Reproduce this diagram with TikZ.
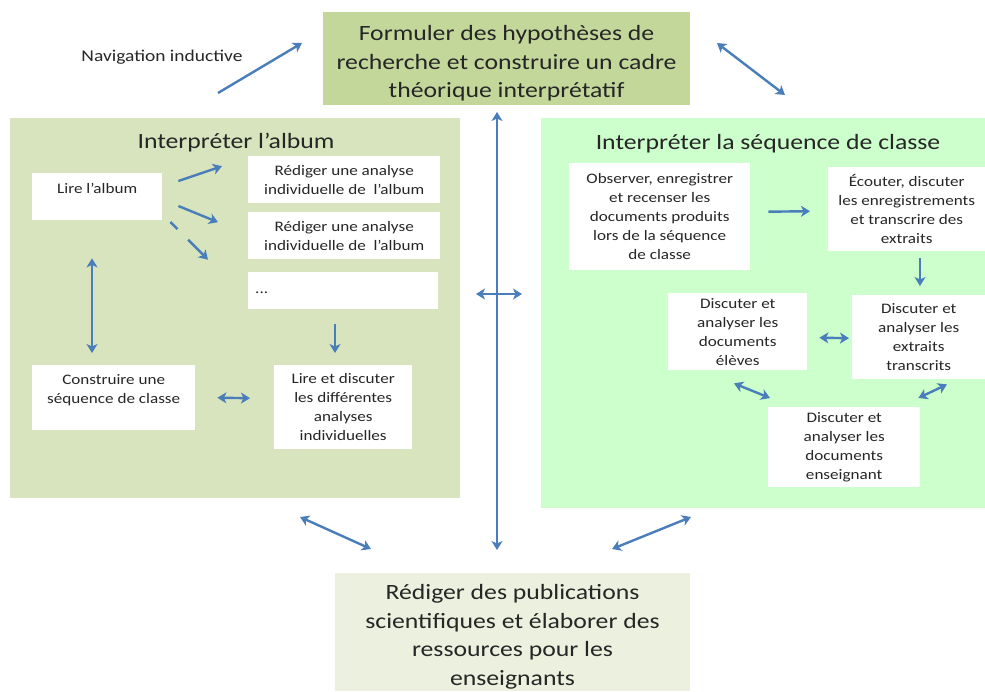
\documentclass[tikz,border=0pt]{standalone}
\usepackage{fontspec}
\setmainfont[FakeStretch=1.18]{Carlito}
\usetikzlibrary{arrows.meta}
\definecolor{topfill}{HTML}{C4D79B}
\definecolor{leftfill}{HTML}{D7E4BD}
\definecolor{rightfill}{HTML}{CCFFCC}
\definecolor{botfill}{HTML}{EBF1DE}
\definecolor{arrowc}{HTML}{4A7EBB}
\definecolor{txt}{HTML}{262626}
\begin{document}
\begin{tikzpicture}[x=1pt,y=-1pt,
  every node/.style={text=txt},
  area/.style={draw=none, anchor=north west, inner sep=0pt},
  wbox/.style={fill=white, draw=none, anchor=north west, inner sep=0pt, align=center,
    font=\fontsize{14.5}{19}\selectfont},
  bigtxt/.style={font=\fontsize{21.8}{28.5}\selectfont, align=center},
  ttl/.style={font=\fontsize{21.8}{24}\selectfont},
  arr/.style={draw=arrowc, line width=2.4pt, -{Stealth[length=9pt,width=11pt,inset=2.5pt]}},
  darr/.style={draw=arrowc, line width=2.4pt, {Stealth[length=9pt,width=11pt,inset=2.5pt]}-{Stealth[length=9pt,width=11pt,inset=2.5pt]}}
]
\useasboundingbox (0,0) rectangle (985,691);

% large areas
\node[area, fill=topfill, minimum width=367pt, minimum height=93pt] (top) at (323,12) {};
\node[bigtxt] (topT) at (506.5,63.5) {Formuler des hypothèses de\\recherche et construire un cadre\\théorique interprétatif};
\node[area, fill=leftfill, minimum width=450pt, minimum height=380pt] (left) at (10,118) {};
\node[area, fill=rightfill, minimum width=444pt, minimum height=390pt] (right) at (541,118) {};
\node[area, fill=botfill, minimum width=355pt, minimum height=118pt] (bot) at (335,573) {};
\node[bigtxt] (botT) at (512.5,637) {Rédiger des publications\\scientifiques et élaborer des\\ressources pour les\\enseignants};

\node[font=\fontsize{16.5}{19}\selectfont] (nav) at (162,57) {Navigation inductive};

\node[ttl] (leftT) at (236,143) {Interpréter l’album};
\node[ttl] (rightT) at (768,144) {Interpréter la séquence de classe};

% left boxes
\node[wbox, minimum width=130pt, minimum height=47pt] (lire) at (32,173) {Lire l’album\\[-8pt]\strut};
\node[wbox, minimum width=192pt, minimum height=47pt] (red1) at (248,156) {Rédiger une analyse\\individuelle de \ l’album};
\node[wbox, minimum width=192pt, minimum height=47pt] (red2) at (248,212) {Rédiger une analyse\\individuelle de \ l’album};
\node[wbox, minimum width=190pt, minimum height=37pt, align=left, text width=176pt] (dots) at (248,272) {\raisebox{-5pt}{...}};
\node[wbox, minimum width=163pt, minimum height=65pt] (constr) at (32,365) {Construire une\\séquence de classe\\[-8pt]\strut};
\node[wbox, minimum width=138pt, minimum height=84pt] (lired) at (274,365) {Lire et discuter\\les différentes\\analyses\\individuelles};

% right boxes
\node[wbox, minimum width=181pt, minimum height=107pt] (obs) at (569,163) {Observer, enregistrer\\et recenser les\\documents produits\\lors de la séquence\\de classe};
\node[wbox, minimum width=157pt, minimum height=84pt] (ecou) at (828,167) {Écouter, discuter\\les enregistrements\\et transcrire des\\extraits};
\node[wbox, minimum width=139pt, minimum height=77pt] (eleves) at (668,293) {Discuter et\\analyser les\\documents\\élèves};
\node[wbox, minimum width=133pt, minimum height=84pt] (extr) at (852,295) {Discuter et\\analyser les\\extraits\\transcrits};
\node[wbox, minimum width=152pt, minimum height=80pt] (ens) at (768,407) {Discuter et\\analyser les\\documents\\enseignant};

% connector end points
\coordinate (navS) at (218,93);  \coordinate (navE) at (302,43);
\coordinate (trA) at (717,43);   \coordinate (trB) at (785,95);
\coordinate (vA) at (497,112);   \coordinate (vB) at (497,550);
\coordinate (hA) at (476,294);   \coordinate (hB) at (522,294);
\coordinate (blA) at (300,517);  \coordinate (blB) at (371,549);
\coordinate (brA) at (612,549);  \coordinate (brB) at (691,517);

\draw[arr] (navS) -- (navE);
\draw[darr] (trA) -- (trB);
\draw[darr] (vA) -- (vB);
\draw[darr] (hA) -- (hB);
\draw[darr] (blA) -- (blB);
\draw[darr] (brA) -- (brB);

% left connectors
\draw[arr] ([shift={(16,8)}]lire.north east) -- ([shift={(-26,-13.5)}]red1.west);
\draw[arr] ([shift={(16,33)}]lire.north east) -- ([shift={(-30,-13.5)}]red2.west);
\draw[arr, dash pattern=on 10pt off 15pt on 60pt] ([shift={(8,49)}]lire.north east) -- ([shift={(-40,24)}]red2.west);
\draw[darr] ([shift={(60,38)}]lire.south west) -- ([shift={(60,-12)}]constr.north west);
\draw[arr] ([shift={(87,15)}]dots.south west) -- ([shift={(61,-12)}]lired.north west);
\draw[darr] ([shift={(22,0)}]constr.east) -- ([shift={(-24,-9)}]lired.west);

% right connectors
\draw[arr] ([shift={(18,-5)}]obs.east) -- ([shift={(-18,2)}]ecou.west);
\draw[arr] ([shift={(92,7)}]ecou.south west) -- ([shift={(68,-9)}]extr.north west);
\draw[darr] ([shift={(12,6)}]eleves.east) -- ([shift={(-3,1)}]extr.west);
\draw[darr] ([shift={(66,13)}]eleves.south west) -- ([shift={(2,-9)}]ens.north west);
\draw[darr] ([shift={(95,5)}]extr.south west) -- ([shift={(-2,-9)}]ens.north east);

\end{tikzpicture}
\end{document}
